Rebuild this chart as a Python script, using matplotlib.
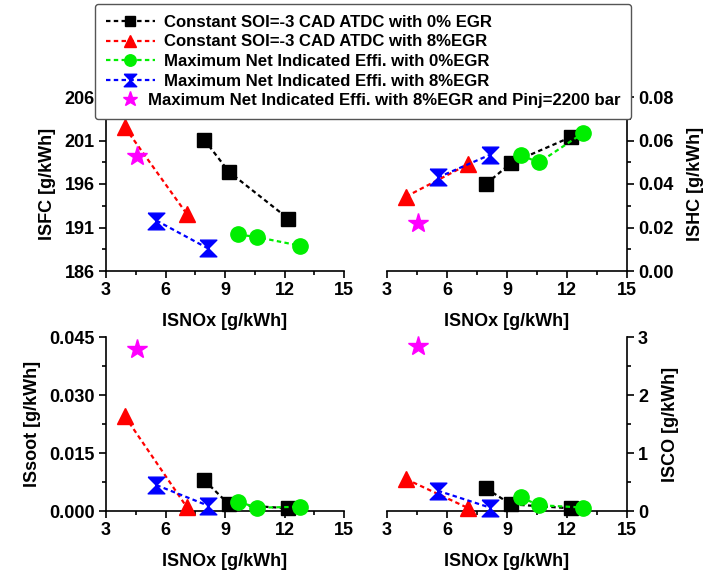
import numpy as np
import matplotlib.pyplot as plt
from matplotlib.ticker import FormatStrFormatter
from matplotlib.offsetbox import HPacker, TextArea

plt.rcParams['font.family'] = ['Liberation Sans', 'DejaVu Sans']
plt.rcParams['font.weight'] = 'bold'
plt.rcParams['axes.labelweight'] = 'bold'

# NOx values (x) per series
x_soi0 = [7.95, 9.2, 12.2]
x_soi8 = [3.95, 7.06]
x_max0 = [9.68, 10.6, 12.8]
x_max8 = [5.54, 8.14]
x_pinj = [4.56]

# ISFC [g/kWh]
isfc_soi0 = [201.1, 197.4, 192.0]
isfc_soi8 = [202.5, 192.6]
isfc_max0 = [190.2, 189.9, 188.9]
isfc_max8 = [191.8, 188.6]
isfc_pinj = [199.2]

# ISHC [g/kWh]
ishc_soi0 = [0.040, 0.0496, 0.0616]
ishc_soi8 = [0.0342, 0.0491]
ishc_max0 = [0.0533, 0.0499, 0.0634]
ishc_max8 = [0.043, 0.0534]
ishc_pinj = [0.022]

# ISsoot [g/kWh]
soot_soi0 = [0.0080, 0.0017, 0.0007]
soot_soi8 = [0.0245, 0.0011]
soot_max0 = [0.0024, 0.00085, 0.0011]
soot_max8 = [0.0067, 0.0014]
soot_pinj = [0.042]

# ISCO [g/kWh]
isco_soi0 = [0.39, 0.115, 0.046]
isco_soi8 = [0.55, 0.05]
isco_max0 = [0.237, 0.10, 0.06]
isco_max8 = [0.35, 0.06]
isco_pinj = [2.84]

labels = ['Constant SOI=-3 CAD ATDC with 0% EGR',
          'Constant SOI=-3 CAD ATDC with 8%EGR',
          'Maximum Net Indicated Effi. with 0%EGR',
          'Maximum Net Indicated Effi. with 8%EGR',
          'Maximum Net Indicated Effi. with 8%EGR and Pinj=2200 bar']

x_ticks = [3, 6, 9, 12, 15]
isfc_ticks = [186, 191, 196, 201, 206]
ishc_ticks = [0.0, 0.02, 0.04, 0.06, 0.08]
soot_ticks = [0.0, 0.015, 0.030, 0.045]
isco_ticks = [0, 1, 2, 3]

hourglass = [(-1, 1), (1, 1), (-1, -1), (1, -1), (-1, 1)]

fig = plt.figure(figsize=(7.16, 5.71), dpi=100)
W, H = 716, 571

def make_ax(l, t, r, b):
    return fig.add_axes([l / W, 1 - b / H, (r - l) / W, (b - t) / H])

ax1 = make_ax(106, 97, 344, 271)
ax2 = make_ax(387, 97, 627, 271)
ax3 = make_ax(106, 337, 344, 511)
ax4 = make_ax(387, 337, 627, 511)

def draw(ax, ys):
    dash = (0, (2, 1.5))
    kw = dict(ls=dash, lw=1.6, clip_on=False, zorder=3)
    h = []
    h += ax.plot(x_soi0, ys[0], color='black', marker='s', ms=10,
                 mfc='black', mec='black', **kw)
    h += ax.plot(x_soi8, ys[1], color='red', marker='^', ms=11,
                 mfc='red', mec='red', **kw)
    h += ax.plot(x_max0, ys[2], color='#00ee00', marker='o', ms=11,
                 mfc='#00ee00', mec='#00ee00', **kw)
    h += ax.plot(x_max8, ys[3], color='blue', marker=hourglass, ms=12,
                 mfc='blue', mec='blue', **kw)
    h += ax.plot(x_pinj, ys[4], ls='none', color='magenta', marker='*',
                 ms=15, mfc='magenta', mec='magenta', clip_on=False, zorder=3)
    return h

handles = draw(ax1, [isfc_soi0, isfc_soi8, isfc_max0, isfc_max8, isfc_pinj])
draw(ax2, [ishc_soi0, ishc_soi8, ishc_max0, ishc_max8, ishc_pinj])
draw(ax3, [soot_soi0, soot_soi8, soot_max0, soot_max8, soot_pinj])
draw(ax4, [isco_soi0, isco_soi8, isco_max0, isco_max8, isco_pinj])

def minors(ticks):
    t = np.asarray(ticks, dtype=float)
    return (t[:-1] + t[1:]) / 2

for ax in [ax1, ax2, ax3, ax4]:
    ax.set_xlim(3, 15)
    ax.set_xticks(x_ticks)
    ax.set_xticks(minors(x_ticks), minor=True)
    ax.set_xlabel('ISNOx [g/kWh]', fontsize=13, fontweight='bold', labelpad=10)
    ax.spines['top'].set_visible(False)
    for s in ax.spines.values():
        s.set_linewidth(1.2)
    ax.tick_params(which='major', direction='out', length=5, width=1.2,
                   labelsize=13, pad=3)
    ax.tick_params(which='minor', direction='out', length=3, width=1.2)
    ax.patch.set_alpha(0)

for ax in [ax1, ax3]:
    ax.spines['right'].set_visible(False)

for ax in [ax2, ax4]:
    ax.spines['left'].set_visible(False)
    ax.yaxis.tick_right()
    ax.yaxis.set_label_position('right')

ax1.set_ylim(186, 206)
ax1.set_yticks(isfc_ticks)
ax1.set_yticks(minors(isfc_ticks), minor=True)
ax1.set_ylabel('ISFC [g/kWh]', fontsize=13, fontweight='bold', labelpad=6)

ax2.set_ylim(0, 0.08)
ax2.set_yticks(ishc_ticks)
ax2.set_yticks(minors(ishc_ticks), minor=True)
ax2.yaxis.set_major_formatter(FormatStrFormatter('%.2f'))
ax2.set_ylabel('ISHC [g/kWh]', fontsize=13, fontweight='bold', rotation=90,
               labelpad=10)

ax3.set_ylim(0, 0.045)
ax3.set_yticks(soot_ticks)
ax3.set_yticks(minors(soot_ticks), minor=True)
ax3.yaxis.set_major_formatter(FormatStrFormatter('%.3f'))
ax3.set_ylabel('ISsoot [g/kWh]', fontsize=13, fontweight='bold', labelpad=6)

ax4.set_ylim(0, 3)
ax4.set_yticks(isco_ticks)
ax4.set_yticks(minors(isco_ticks), minor=True)
ax4.set_ylabel('ISCO [g/kWh]', fontsize=13, fontweight='bold', rotation=90,
               labelpad=10)

leg = fig.legend(handles, labels, loc='upper left',
                 bbox_to_anchor=(95 / W, 1 - 4 / H),
                 prop={'weight': 'bold', 'size': 12.1}, markerscale=0.75,
                 handlelength=2.9, labelspacing=0.27, borderpad=0.65,
                 handletextpad=0.55, borderaxespad=0, fancybox=True,
                 framealpha=1, edgecolor='#555555')
leg.get_frame().set_linewidth(1.0)
leg.set_zorder(10)

# the star entry has no line, so its text sits closer to the marker
star_text = leg.get_texts()[4]
for box in leg.findobj(HPacker):
    kids = box.get_children()
    if any(isinstance(k, TextArea) and k._text is star_text for k in kids):
        box.sep = box.sep - 11.5

fig.savefig('out.png', dpi=100)
